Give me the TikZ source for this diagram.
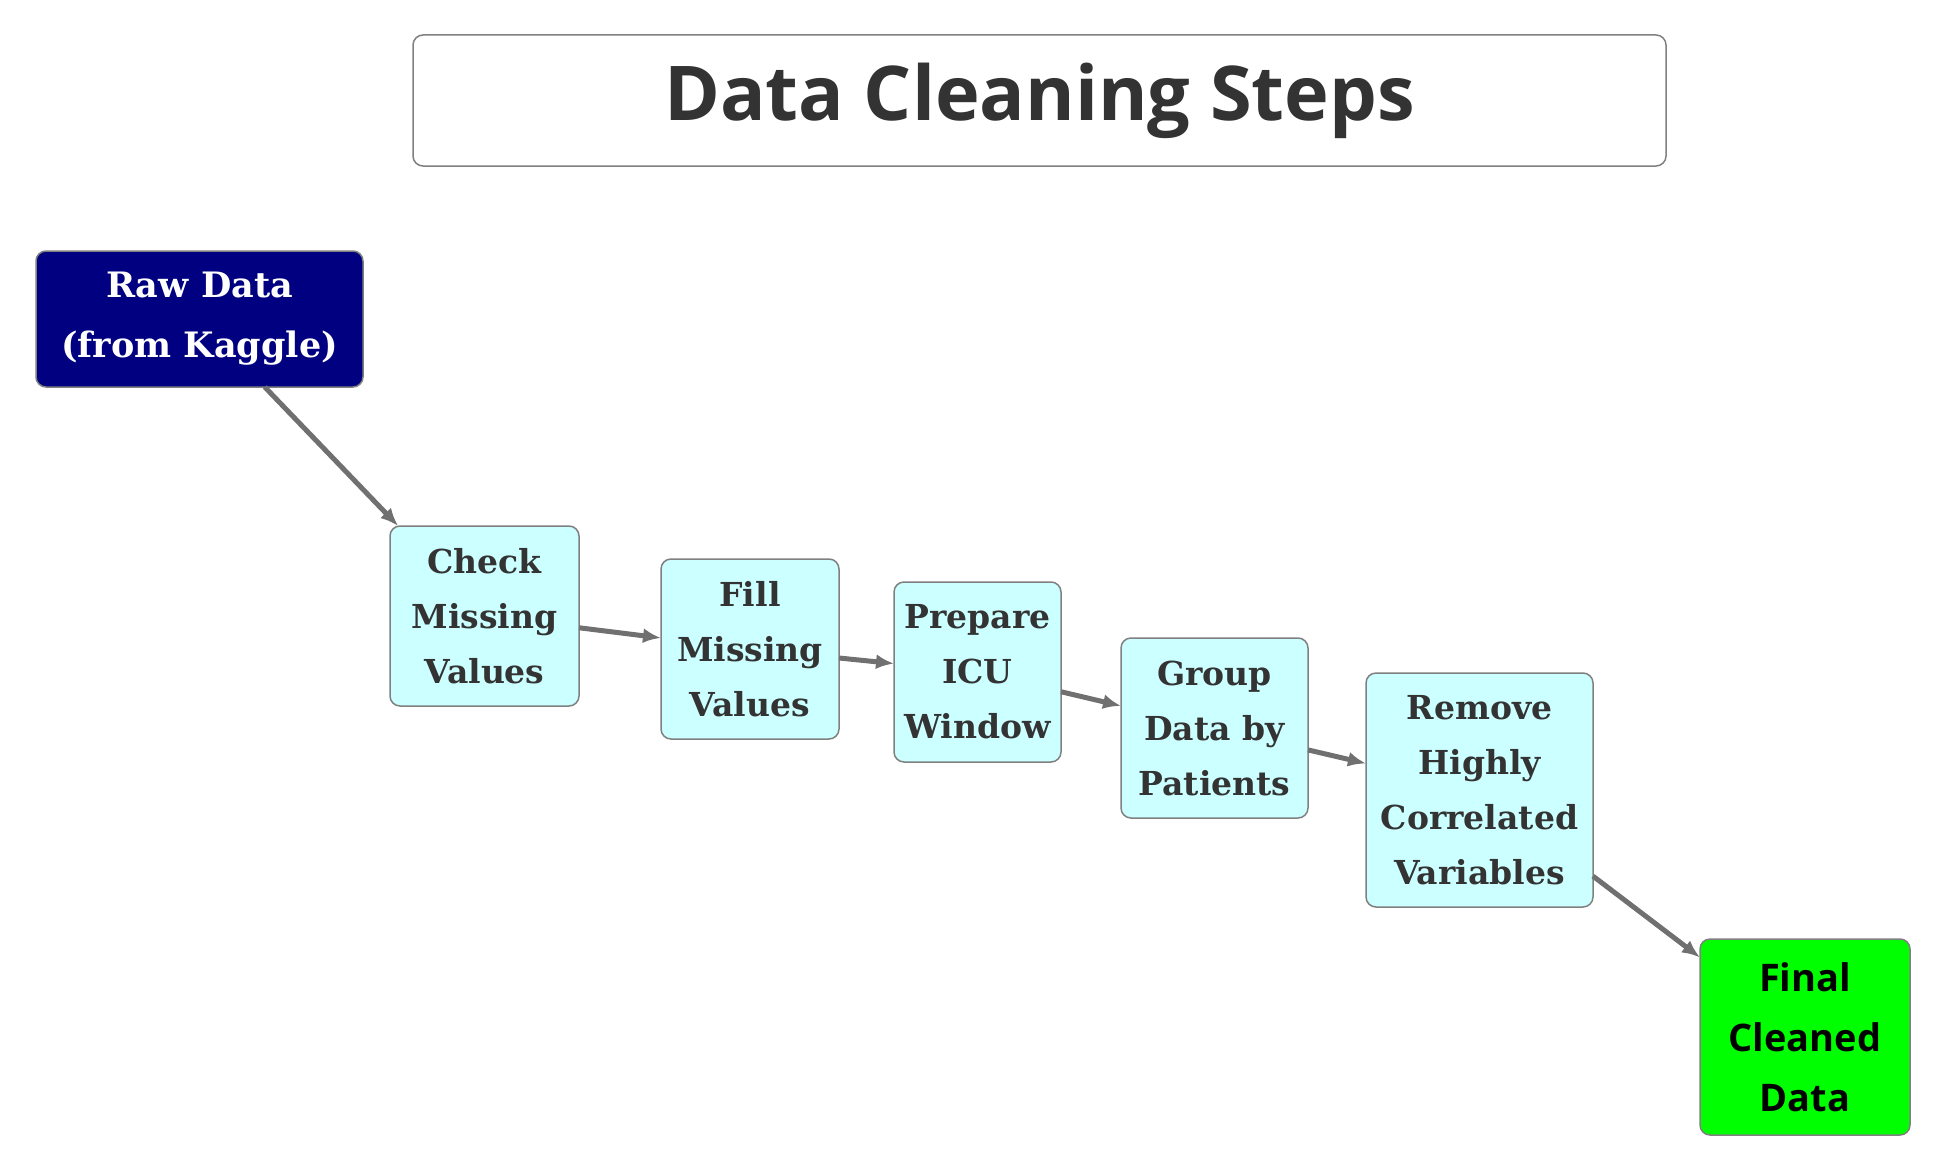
\documentclass[tikz,border=0pt]{standalone}
\usepackage{fontspec}
\setmainfont{DejaVu Serif}
\setsansfont{Open Sans}
\usetikzlibrary{arrows.meta,positioning}

\definecolor{rawblue}{HTML}{000080}
\definecolor{stepcyan}{HTML}{CCFFFF}
\definecolor{donegreen}{HTML}{00FF00}
\definecolor{inkgray}{HTML}{333333}
\definecolor{linegray}{HTML}{707070}
\definecolor{framegray}{HTML}{808080}

\begin{document}
\begin{tikzpicture}[auto, node distance=2cm,>={Latex[length=9pt,width=7.5pt]}]
			\tikzset{stepbox/.style= {draw=framegray, line width=0.75pt, fill=stepcyan, rectangle, rounded corners=5pt, align=center, inner sep=0pt, outer sep=0pt, minimum height=90pt, text=inkgray, font=\fontsize{16.5}{27.5}\selectfont\bfseries},
        rawbox/.style={stepbox, fill=rawblue, text=white, minimum width=163.5pt, minimum height=68pt, font=\fontsize{17.5}{30}\selectfont\bfseries},
        finalbox/.style={stepbox, fill=donegreen, text=black, minimum width=105pt, minimum height=98pt, font=\sffamily\bfseries\fontsize{19}{30}\selectfont},
        titlebox/.style={draw=framegray, line width=0.75pt, rectangle, rounded corners=5pt, align=center, minimum width=626.5pt, minimum height=65.5pt, text=inkgray, font=\sffamily\bfseries\fontsize{37.8}{45}\selectfont},
        line/.style={draw, ->, line width=2.5pt, linegray}
        }

			\useasboundingbox (0,0) rectangle (973.5pt,-586pt);

			\node [titlebox] (title) at (519.75pt,-50.25pt) {Data Cleaning Steps};
			\node [rawbox, anchor=north west] (raw) at (18pt,-125.5pt) {Raw Data\\(from Kaggle)};
			\node [stepbox, minimum width=94.5pt, below right=69.5pt and 13.5pt of raw.south east] (check) {Check\\Missing\\Values};
			\node [stepbox, minimum width=89pt, below right=16.5pt and 41pt of check.north east] (fill) {Fill\\Missing\\Values};
			\node [stepbox, minimum width=83.5pt, below right=11.5pt and 27.5pt of fill.north east] (prepare) {Prepare\\ICU\\Window};
			\node [stepbox, minimum width=93.5pt, below right=28pt and 30pt of prepare.north east] (group) {Group\\Data by\\Patients};
			\node [stepbox, minimum width=113.5pt, minimum height=117pt, below right=17.5pt and 29pt of group.north east] (remove) {Remove\\Highly\\Correlated\\Variables};
			\node [finalbox, below right=16pt and 53.5pt of remove.south east] (final) {Final\\Cleaned\\Data};

			\path[line] (raw) edge (check);
			\path[line] (check) edge (fill);
			\path[line] (fill) edge (prepare);
			\path[line] (prepare) edge (group);
			\path[line] (group) edge (remove);
			\path[line] (remove) edge (final);

		\end{tikzpicture}
\end{document}
